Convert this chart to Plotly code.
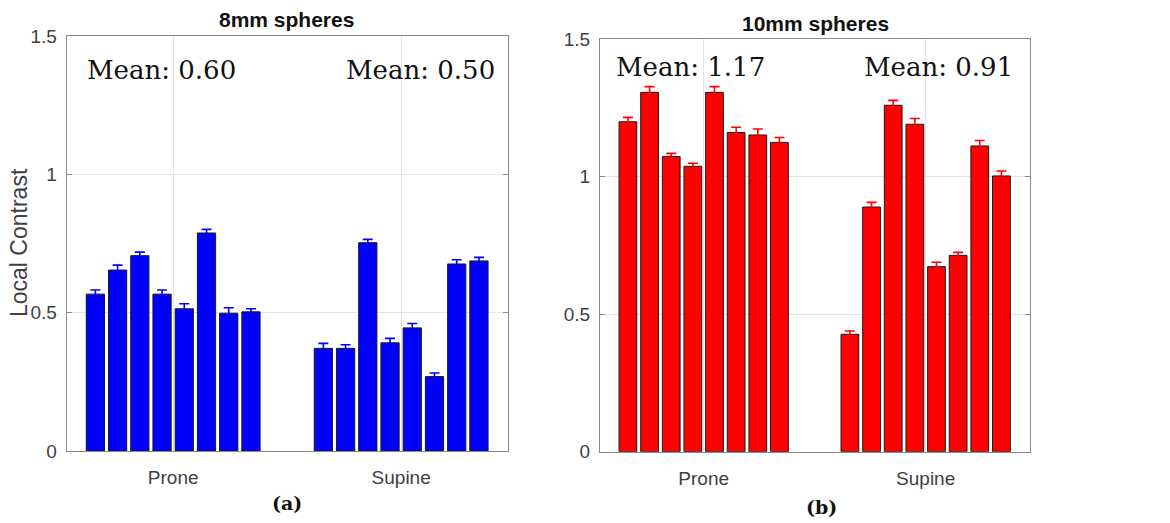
import plotly.graph_objects as go

# ---- data ----
positions = ["Prone", "Supine"]

prone_8mm = [0.567, 0.654, 0.706, 0.567, 0.514, 0.788, 0.498, 0.503]
supine_8mm = [0.371, 0.371, 0.753, 0.391, 0.445, 0.269, 0.676, 0.687]
prone_8mm_err = [0.015, 0.018, 0.013, 0.015, 0.018, 0.013, 0.020, 0.011]
supine_8mm_err = [0.018, 0.013, 0.012, 0.016, 0.016, 0.013, 0.015, 0.013]

prone_10mm = [1.200, 1.307, 1.074, 1.038, 1.307, 1.161, 1.152, 1.125]
supine_10mm = [0.427, 0.890, 1.260, 1.191, 0.673, 0.714, 1.112, 1.003]
prone_10mm_err = [0.016, 0.021, 0.011, 0.011, 0.021, 0.019, 0.022, 0.018]
supine_10mm_err = [0.012, 0.017, 0.018, 0.021, 0.016, 0.011, 0.020, 0.018]

titles = ["8mm spheres", "10mm spheres"]
mean_labels = [["Mean: 0.60", "Mean: 0.50"], ["Mean: 1.17", "Mean: 0.91"]]
panel_labels = ["(a)", "(b)"]
y_title = "Local Contrast"
y_ticks = [0, 0.5, 1, 1.5]
y_ticktext = ["0", "0.5", "1", "1.5"]

W, H = 1170, 523

fig = go.Figure()

panels = [
    dict(prone=prone_8mm, supine=supine_8mm, pe=prone_8mm_err, se=supine_8mm_err,
         color="#0000ff", xa="x", ya="y"),
    dict(prone=prone_10mm, supine=supine_10mm, pe=prone_10mm_err, se=supine_10mm_err,
         color="#ff0000", xa="x2", ya="y2"),
]

for p in panels:
    for i in range(len(p["prone"])):
        fig.add_trace(go.Bar(
            x=positions,
            y=[p["prone"][i], p["supine"][i]],
            error_y=dict(type="data", array=[p["pe"][i], p["se"][i]],
                         color=p["color"], thickness=1.6, width=5, visible=True),
            marker=dict(color=p["color"], line=dict(color="#1a1a1a", width=1)),
            xaxis=p["xa"], yaxis=p["ya"],
            offsetgroup=str(i), showlegend=False, hoverinfo="skip",
        ))

# axis pixel geometry
left = dict(x0=66.7, x1=508.3, ytop=36.0, ybot=451.0)
right = dict(x0=600.0, x1=1030.0, ytop=39.3, ybot=451.7)

def dom_x(g):
    return [g["x0"] / W, g["x1"] / W]

def dom_y(g):
    return [(H - g["ybot"]) / H, (H - g["ytop"]) / H]

axis_line = "#8a8a8a"
grid = "#e4e4e4"
tick_font = dict(family="Liberation Sans, Arial, sans-serif", size=19, color="#404040")

common_x = dict(type="category", range=[-0.467, 1.47], showgrid=True, gridcolor=grid,
                gridwidth=1, showline=True, linecolor=axis_line, linewidth=1, mirror=True,
                ticks="", tickfont=tick_font, ticklabelstandoff=9, zeroline=False,
                fixedrange=True, automargin=False)
common_y = dict(range=[0, 1.5], tickvals=y_ticks, ticktext=y_ticktext, showgrid=True,
                gridcolor=grid, gridwidth=1, showline=True, linecolor=axis_line,
                linewidth=1, mirror="ticks", ticks="inside", ticklen=5,
                tickcolor=axis_line, tickfont=tick_font, ticklabelstandoff=5,
                zeroline=False, fixedrange=True, automargin=False)

fig.update_layout(
    width=W, height=H, autosize=False,
    margin=dict(l=0, r=0, t=0, b=0, pad=0, autoexpand=False),
    paper_bgcolor="white", plot_bgcolor="white",
    barmode="group", bargap=0.22, bargroupgap=0.18,
    xaxis=dict(domain=dom_x(left), anchor="y", **common_x),
    yaxis=dict(domain=dom_y(left), anchor="x", **common_y),
    xaxis2=dict(domain=dom_x(right), anchor="y2", **common_x),
    yaxis2=dict(domain=dom_y(right), anchor="x2", **common_y),
)

ann = []
# titles
title_font = dict(family="Liberation Sans, Arial, sans-serif", size=21, color="#111111")
ann.append(dict(text="<b>%s</b>" % titles[0], x=286.5 / W, y=1 - 20 / H, xref="paper",
                yref="paper", showarrow=False, xanchor="center", yanchor="middle",
                font=title_font))
ann.append(dict(text="<b>%s</b>" % titles[1], x=815 / W, y=1 - 23 / H, xref="paper",
                yref="paper", showarrow=False, xanchor="center", yanchor="middle",
                font=title_font))

# mean labels
mean_font = dict(family="DejaVu Serif, serif", size=26, color="#111111")
ann.append(dict(text=mean_labels[0][0], x=0.041, y=0.918, xref="x domain", yref="y domain",
                showarrow=False, xanchor="left", yanchor="middle", font=mean_font))
ann.append(dict(text=mean_labels[0][1], x=0.9735, y=0.918, xref="x domain", yref="y domain",
                showarrow=False, xanchor="right", yanchor="middle", font=mean_font))
ann.append(dict(text=mean_labels[1][0], x=0.033, y=0.933, xref="x2 domain", yref="y2 domain",
                showarrow=False, xanchor="left", yanchor="middle", font=mean_font))
ann.append(dict(text=mean_labels[1][1], x=0.965, y=0.933, xref="x2 domain", yref="y2 domain",
                showarrow=False, xanchor="right", yanchor="middle", font=mean_font))

# panel labels
pl_font = dict(family="DejaVu Serif, serif", size=19, color="#111111")
ann.append(dict(text="<b>%s</b>" % panel_labels[0], x=286.5 / W, y=1 - 503 / H, xref="paper",
                yref="paper", showarrow=False, xanchor="center", yanchor="middle", font=pl_font))
ann.append(dict(text="<b>%s</b>" % panel_labels[1], x=822 / W, y=1 - 507 / H, xref="paper",
                yref="paper", showarrow=False, xanchor="center", yanchor="middle", font=pl_font))

# y-axis title
ann.append(dict(text=y_title, x=19 / W, y=1 - 243 / H, xref="paper", yref="paper",
                showarrow=False, xanchor="center", yanchor="middle", textangle=-90,
                font=dict(family="Liberation Sans, Arial, sans-serif", size=23, color="#404040")))

fig.update_layout(annotations=ann)

fig.write_html("out.html")
